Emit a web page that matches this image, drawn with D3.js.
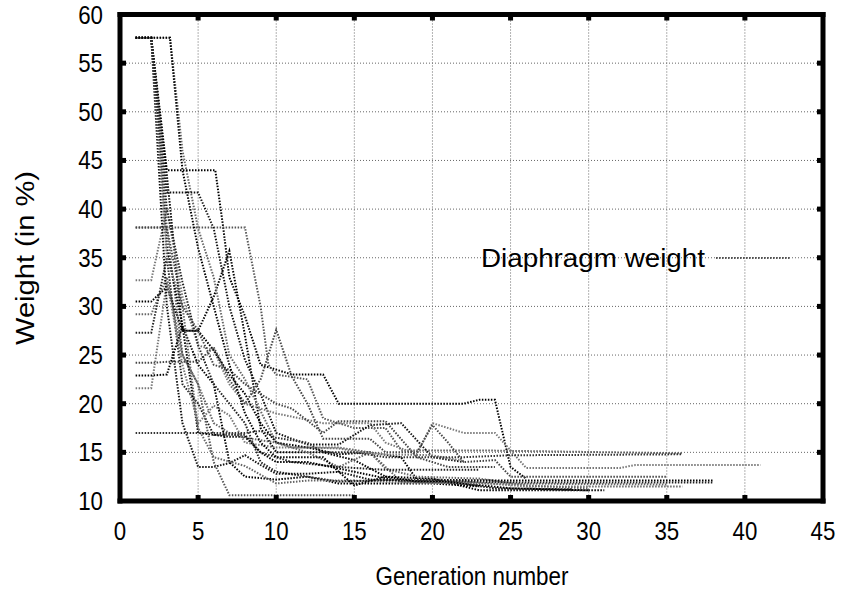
<!DOCTYPE html>
<html>
<head>
<meta charset="utf-8">
<script src="https://cdn.jsdelivr.net/npm/d3@7"></script>
<style>
  body { margin: 0; background: #fff; }
  text { font-family: "Liberation Sans", Arial, sans-serif; fill: #000; }
</style>
</head>
<body>
<div id="chart"></div>
<script>
"use strict";

// axis ticks
var xTicks = [0, 5, 10, 15, 20, 25, 30, 35, 40, 45];
var yTicks = [10, 15, 20, 25, 30, 35, 40, 45, 50, 55, 60];

// one run per array: [generation, weight %] at each change of slope
var run01 = [[1,57.6],[2,57.6],[3,43.5],[4,27.5],[5,27.5],[6,31],[7,35.7],[8,27],[9,17.5],[10,15],[13,15],[15,14.2],[17,12.5],[20,12.3],[23,11.1],[31,11.1]];
var run02 = [[1,57.6],[3.2,57.6],[4,46],[5,38],[6,33],[7,25],[8,22.5],[10,16],[11,15.5],[14,15.5],[16,15],[18,12],[22,12],[26,11.5],[36,11.5]];
var run03 = [[1,57.6],[2,57.6],[3,44],[6.1,44],[6.6,38.2],[7,33],[8,29],[9,24],[11,23],[13,23],[14,20],[22,20],[23,20.4],[24,20.4],[25,13.5],[26,12.3]];
var run04 = [[1,38.1],[8,38.1],[9,30],[9.5,24],[10,23],[12,22.5],[13,18.5],[15,17.5],[17,17.5],[18,15.2],[23,15.2],[36,14.9]];
var run05 = [[1,57.6],[2,57.6],[3,41.7],[5,41.7],[6,38],[7,30],[8,24.5],[9,21],[10,17],[12,15.8],[14,15.8],[16,17.8],[18,18],[20,14.5],[22,14]];
var run06 = [[1,32.7],[2,32.7],[3,40],[4,31],[5,26],[6,25.5],[7,22],[8,20],[10,19],[13,18],[16,18],[17,16],[19,14.8],[20,18],[22,17],[24,17],[26,13.4],[32,13.4],[33,13.7],[41,13.7]];
var run07 = [[1,30.5],[2,30.5],[3,32],[4,27.5],[5,27.5],[6,25.5],[7,23],[8,21],[9,18],[10,16],[12,15.5],[14,14.8],[16,15],[18,14.5],[19,12.2],[25,12.1],[38,12.1]];
var run08 = [[1,29.2],[2,29.2],[3,33],[4,25],[5,22],[6,18],[7,17],[8,16.5],[10,16],[12,15],[14,13.5],[16,15],[17,13.3],[19,12.5],[23,12.3],[26,11.6],[30,11.3]];
var run09 = [[1,27.3],[2,27.3],[3,35],[4,22],[5,20],[6,16.8],[8,16.8],[9,15],[11,14],[14,13.5],[17,13.2],[23,13.2]];
var run10 = [[1,24.2],[2,24.2],[3,24.3],[5,24.3],[6,25.8],[7,22.5],[8,20],[9,22.5],[10,27.6],[11,22.8],[12,20],[13,16.4],[16,16.4],[17,15],[19,15],[20,17.8],[21,16],[22,14],[24,14.2],[25,12.5],[35,12.5]];
var run11 = [[1,22.9],[2,22.9],[3,23],[4,28],[5,17],[7,16.6],[8,16.6],[9,15],[10,14],[12,14],[15,13],[18,12],[22,11.8],[25,11.3],[30,11.1]];
var run12 = [[1,21.6],[2,21.6],[3,32.5],[4,24],[5,18],[6,19.8],[7,18.8],[8,16],[10,15.5],[12,15.5],[14,15.4],[15,15.1],[17,14.8],[20,14.7],[22,14.1]];
var run13 = [[1,17.0],[8,17],[9,17.2],[10,16.5],[12,16],[13,15],[15,15],[17,14.5],[22,14.5],[25,14.7],[36,14.8]];
var run14 = [[1,57.6],[2,57.6],[3,30],[4,18],[5,13.5],[6,13.5],[7,13.9],[8,14.7],[9,13.7],[10,12.8],[12,12.8],[14,13],[16,12.2],[20,12],[22,11.8]];
var run15 = [[1,57.6],[2,57.6],[3,38],[4,25],[5,22],[6,14],[7,10.6],[10,10.6],[15,10.6]];
var run16 = [[1,57.6],[2,57.6],[3,36],[4,28],[5,24],[6,22],[7,14],[8,12.5],[10,12.2],[12,12.5],[14,11.8],[20,11.8],[23,11.5]];
var run17 = [[1,57.6],[2,57.6],[3,35],[4,30],[5,17.5],[6,14.5],[8,13.6],[10,11.8],[12,12.1],[15,12.1],[18,11.9],[23,11.8],[35,11.7]];
var run18 = [[1,57.6],[2,57.6],[3,40],[4,32.5],[5,26],[6,22],[7,20],[8,18],[9,14],[10,13],[12,12.5],[14,12],[18,12.2],[20,12.2],[22,12],[26,11.9],[38,11.9]];
var run19 = [[1,38.1],[3,38.1],[4,30],[5,27.5],[6,24],[7,23.5],[8,22],[10,20],[11,19.5],[13,17],[14,18.2],[17,18.2],[19,14.5],[21,13.5],[24,13.5]];
var run20 = [[1,57.6],[3.2,57.6],[4,44],[5,36],[6,30],[7,24],[8,19],[9,16],[10,14.5],[13,14.5],[14,13],[15,11.6],[17,12.5],[19,12],[21,12],[24,11.3],[29,11.2]];

var runs = [run01, run02, run03, run04, run05, run06, run07, run08, run09, run10,
            run11, run12, run13, run14, run15, run16, run17, run18, run19, run20];
var runColors = ["#000", "#666", "#000", "#555", "#111", "#777", "#000", "#666", "#222", "#444",
                 "#000", "#777", "#333", "#111", "#555", "#000", "#666", "#222", "#444", "#000"];

var legendLabel = "Diaphragm weight";

// layout
var width = 846, height = 589;
var plotLeft = 120, plotRight = 823, plotTop = 14.5, plotBottom = 501;
var frameW = 5, tickLen = 6, tickW = 5;

var svg = d3.select("#chart").append("svg")
  .attr("width", width)
  .attr("height", height)
  .style("display", "block");

var x = d3.scaleLinear().domain([0, 45]).range([plotLeft, plotRight]);
var y = d3.scaleLinear().domain([10, 60]).range([plotBottom, plotTop]);

// grid
var grid = svg.append("g").attr("class", "grid");
grid.selectAll("line.gx")
  .data(xTicks.slice(1, -1))
  .enter().append("line")
    .attr("x1", function(d) { return x(d); })
    .attr("x2", function(d) { return x(d); })
    .attr("y1", plotTop).attr("y2", plotBottom)
    .attr("stroke", "#666").attr("stroke-width", 1).attr("stroke-dasharray", "1,2");
grid.selectAll("line.gy")
  .data(yTicks.slice(1, -1))
  .enter().append("line")
    .attr("y1", function(d) { return y(d); })
    .attr("y2", function(d) { return y(d); })
    .attr("x1", plotLeft).attr("x2", plotRight)
    .attr("stroke", "#666").attr("stroke-width", 1).attr("stroke-dasharray", "1,2");

// runs
var line = d3.line()
  .x(function(p) { return x(p[0]); })
  .y(function(p) { return y(p[1]); });

svg.append("g").attr("class", "runs")
  .selectAll("path")
  .data(runs)
  .enter().append("path")
    .attr("d", line)
    .attr("fill", "none")
    .attr("stroke", function(d, i) { return runColors[i]; })
    .attr("stroke-width", 2)
    .attr("stroke-dasharray", "1.5,1.5");

// legend
svg.append("text")
  .attr("x", 705).attr("y", 267)
  .attr("text-anchor", "end")
  .attr("font-size", 26)
  .attr("textLength", 224)
  .attr("lengthAdjust", "spacingAndGlyphs")
  .text(legendLabel);
svg.append("line")
  .attr("x1", 716).attr("x2", 790)
  .attr("y1", 258).attr("y2", 258)
  .attr("stroke", "#555").attr("stroke-width", 2)
  .attr("stroke-dasharray", "1.5,1.5");

// ticks on all four sides, as small filled blocks
var ticks = svg.append("g").attr("class", "ticks");
xTicks.slice(1, -1).forEach(function(t) {
  ticks.append("rect").attr("x", x(t) - tickW / 2).attr("y", plotBottom - tickLen)
    .attr("width", tickW).attr("height", tickLen).attr("fill", "#000");
  ticks.append("rect").attr("x", x(t) - tickW / 2).attr("y", plotTop)
    .attr("width", tickW).attr("height", tickLen).attr("fill", "#000");
});
yTicks.slice(1, -1).forEach(function(t) {
  ticks.append("rect").attr("x", plotLeft).attr("y", y(t) - tickW / 2)
    .attr("width", tickLen).attr("height", tickW).attr("fill", "#000");
  ticks.append("rect").attr("x", plotRight - tickLen).attr("y", y(t) - tickW / 2)
    .attr("width", tickLen).attr("height", tickW).attr("fill", "#000");
});

// frame, four filled bars
var frame = [
  [plotLeft - frameW / 2, plotTop - frameW / 2, plotRight - plotLeft + frameW, frameW],
  [plotLeft - frameW / 2, plotBottom - frameW / 2, plotRight - plotLeft + frameW, frameW],
  [plotLeft - frameW / 2, plotTop - frameW / 2, frameW, plotBottom - plotTop + frameW],
  [plotRight - frameW / 2, plotTop - frameW / 2, frameW, plotBottom - plotTop + frameW]
];
svg.append("g").selectAll("rect")
  .data(frame)
  .enter().append("rect")
    .attr("x", function(d) { return d[0]; })
    .attr("y", function(d) { return d[1]; })
    .attr("width", function(d) { return d[2]; })
    .attr("height", function(d) { return d[3]; })
    .attr("fill", "#000");

// tick labels
svg.append("g").selectAll("text")
  .data(xTicks)
  .enter().append("text")
    .attr("x", function(d) { return x(d); })
    .attr("y", 540)
    .attr("text-anchor", "middle")
    .attr("font-size", 25)
    .attr("textLength", function(d) { return String(d).length * 12.4; })
    .attr("lengthAdjust", "spacingAndGlyphs")
    .text(function(d) { return d; });
svg.append("g").selectAll("text")
  .data(yTicks)
  .enter().append("text")
    .attr("x", 103)
    .attr("y", function(d) { return y(d) + 9; })
    .attr("text-anchor", "end")
    .attr("font-size", 25)
    .attr("textLength", function(d) { return String(d).length * 12.4; })
    .attr("lengthAdjust", "spacingAndGlyphs")
    .text(function(d) { return d; });

// axis titles
svg.append("text")
  .attr("x", 472).attr("y", 585)
  .attr("text-anchor", "middle")
  .attr("font-size", 25)
  .attr("textLength", 193)
  .attr("lengthAdjust", "spacingAndGlyphs")
  .text("Generation number");
svg.append("text")
  .attr("transform", "translate(34,258) rotate(-90)")
  .attr("text-anchor", "middle")
  .attr("font-size", 25)
  .attr("textLength", 174)
  .attr("lengthAdjust", "spacingAndGlyphs")
  .text("Weight (in %)");
</script>
</body>
</html>
